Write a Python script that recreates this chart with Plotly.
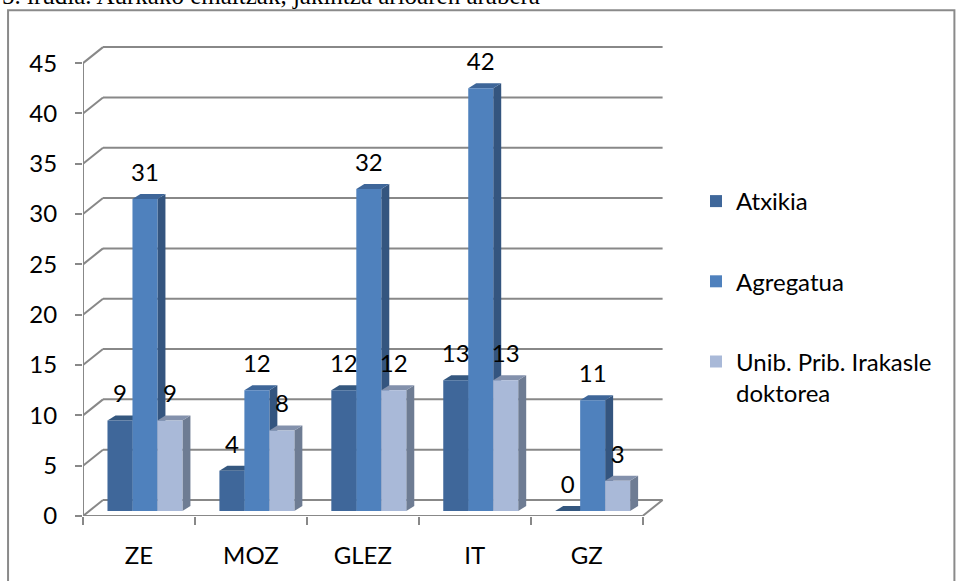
import plotly.graph_objects as go

# ---------------- data ----------------
categories = ["ZE", "MOZ", "GLEZ", "IT", "GZ"]
series_names = ["Atxikia", "Agregatua", "Unib. Prib. Irakasle<br>doktorea"]
atxikia = [9, 4, 12, 13, 0]
agregatua = [31, 12, 32, 42, 11]
unib_prib = [9, 8, 12, 13, 3]
y_tick_values = [0, 5, 10, 15, 20, 25, 30, 35, 40, 45]
title_text = "5. irudia. Aurkako emaitzak, jakintza arloaren arabera"

series_values = [atxikia, agregatua, unib_prib]

# ---------------- style ----------------
front_colors = ["#3F679A", "#4F81BD", "#A9B9D8"]
side_colors = ["#2D4B71", "#34557F", "#6E7C93"]
top_colors = ["#34577F", "#3E6699", "#8391AC"]
grid_color = "#888888"
font_family = "Lato"
FS = 24

W, H = 956, 581
L = 83.0            # pixel of x = 0
PX_X = 112.0        # pixels per category
X_MAX = 5.2
Y0_PX = 516.0       # pixel of y = 0
PX_Y = 453.0 / 45   # pixels per unit
Y_MAX = 46.8
T = Y0_PX - Y_MAX * PX_Y
B = H - Y0_PX
R = W - L - X_MAX * PX_X
PW = X_MAX * PX_X
PH = Y0_PX - T

BAR_W = 25.0 / PX_X
GROUP_SHIFT = 6.0 / PX_X
BAR_BASE = 5.0 / PX_Y
DEPTH_DX = 8.0 / PX_X
DEPTH_DY = 5.0 / PX_Y
WALL_DX = 20.0 / PX_X
WALL_DY = 16.0 / PX_Y
LABEL_GAP = 24.0 / PX_Y
n_cat = len(categories)


def px_to_paper_x(px):
    return (px - L) / PW


def px_to_paper_y(py):
    return (Y0_PX - py) / PH


fig = go.Figure()

shapes = []
# back wall grid + left wall diagonals
for v in y_tick_values:
    shapes.append(dict(type="line", xref="x", yref="y", x0=0, y0=v, x1=WALL_DX, y1=v + WALL_DY,
                       line=dict(color=grid_color, width=2), layer="below"))
    shapes.append(dict(type="line", xref="x", yref="y", x0=WALL_DX, y0=v + WALL_DY,
                       x1=n_cat + WALL_DX, y1=v + WALL_DY,
                       line=dict(color=grid_color, width=2), layer="below"))
# floor right edge
shapes.append(dict(type="line", xref="x", yref="y", x0=n_cat, y0=0, x1=n_cat + WALL_DX, y1=WALL_DY,
                   line=dict(color=grid_color, width=2), layer="below"))
# front axis lines
shapes.append(dict(type="line", xref="x", yref="y", x0=0, y0=0, x1=0, y1=max(y_tick_values),
                   line=dict(color=grid_color, width=2), layer="below"))
shapes.append(dict(type="line", xref="x", yref="y", x0=0, y0=0, x1=n_cat, y1=0,
                   line=dict(color=grid_color, width=2), layer="below"))

label_x, label_y, label_t = [], [], []
for i in range(n_cat):
    cx = i + 0.5 + GROUP_SHIFT
    for j, vals in enumerate(series_values):
        v = vals[i]
        x0 = cx + (j - 1.5) * BAR_W
        x1 = x0 + BAR_W
        top = BAR_BASE + v
        side = (f"M {x1},{BAR_BASE} L {x1},{top} L {x1 + DEPTH_DX},{top + DEPTH_DY} "
                f"L {x1 + DEPTH_DX},{BAR_BASE + DEPTH_DY} Z")
        shapes.append(dict(type="path", xref="x", yref="y", path=side,
                           fillcolor=side_colors[j], line=dict(width=0), layer="below"))
        topf = (f"M {x0},{top} L {x1},{top} L {x1 + DEPTH_DX},{top + DEPTH_DY} "
                f"L {x0 + DEPTH_DX},{top + DEPTH_DY} Z")
        shapes.append(dict(type="path", xref="x", yref="y", path=topf,
                           fillcolor=top_colors[j], line=dict(width=0), layer="below"))
        label_x.append(x0 + BAR_W / 2)
        label_y.append(top + LABEL_GAP)
        label_t.append(str(v))

# border rectangle
shapes.append(dict(type="rect", xref="paper", yref="paper",
                   x0=px_to_paper_x(8), x1=px_to_paper_x(955),
                   y0=px_to_paper_y(600), y1=px_to_paper_y(10),
                   line=dict(color="#8a8a8a", width=2), fillcolor="rgba(0,0,0,0)", layer="above"))

for j, vals in enumerate(series_values):
    fig.add_trace(go.Bar(
        x=[i + 0.5 + GROUP_SHIFT for i in range(n_cat)],
        y=vals, base=BAR_BASE, width=BAR_W, offset=(j - 1.5) * BAR_W,
        name=series_names[j], legendgroup=f"g{j}",
        marker=dict(color=front_colors[j], line=dict(width=0)),
    ))

fig.add_trace(go.Scatter(x=label_x, y=label_y, text=label_t, mode="text",
                         textfont=dict(family=font_family, size=FS, color="#000000"),
                         showlegend=False, hoverinfo="skip", cliponaxis=False))

fig.update_layout(
    width=W, height=H,
    margin=dict(l=L, r=R, t=T, b=B, pad=0, autoexpand=False),
    paper_bgcolor="white", plot_bgcolor="white",
    barmode="overlay",
    shapes=shapes,
    font=dict(family=font_family, size=FS, color="#000000"),
    annotations=[dict(text=title_text, xref="paper", yref="paper",
                      x=px_to_paper_x(0), y=px_to_paper_y(-4.5),
                      xanchor="left", yanchor="middle", showarrow=False,
                      font=dict(family="Liberation Serif", size=25, color="#000000"))],
    xaxis=dict(range=[0, X_MAX], showgrid=False, zeroline=False, showline=False,
               tickmode="array", tickvals=[i + 0.5 for i in range(n_cat)], ticktext=categories,
               ticks="", ticklabelstandoff=23,
               minor=dict(tickmode="array", tickvals=list(range(n_cat + 1)), ticks="outside",
                          ticklen=8, tickwidth=2, tickcolor=grid_color, showgrid=False),
               tickfont=dict(family=font_family, size=FS, color="#000000")),
    yaxis=dict(range=[0, Y_MAX], showgrid=False, zeroline=False, showline=False,
               tickmode="array", tickvals=y_tick_values, ticks="outside", ticklen=7,
               tickwidth=2, tickcolor=grid_color, ticklabelstandoff=13,
               tickfont=dict(family=font_family, size=FS, color="#000000")),
    legend=dict(xref="container", yref="container", x=696 / W, y=1 - 179 / H,
                xanchor="left", yanchor="top", tracegroupgap=46, valign="top",
                traceorder="grouped", font=dict(family=font_family, size=FS, color="#000000"),
                bgcolor="rgba(0,0,0,0)"),
    showlegend=True,
)

fig.write_html("out.html", config={"displayModeBar": False},
               post_script="document.body.style.margin='0';")
